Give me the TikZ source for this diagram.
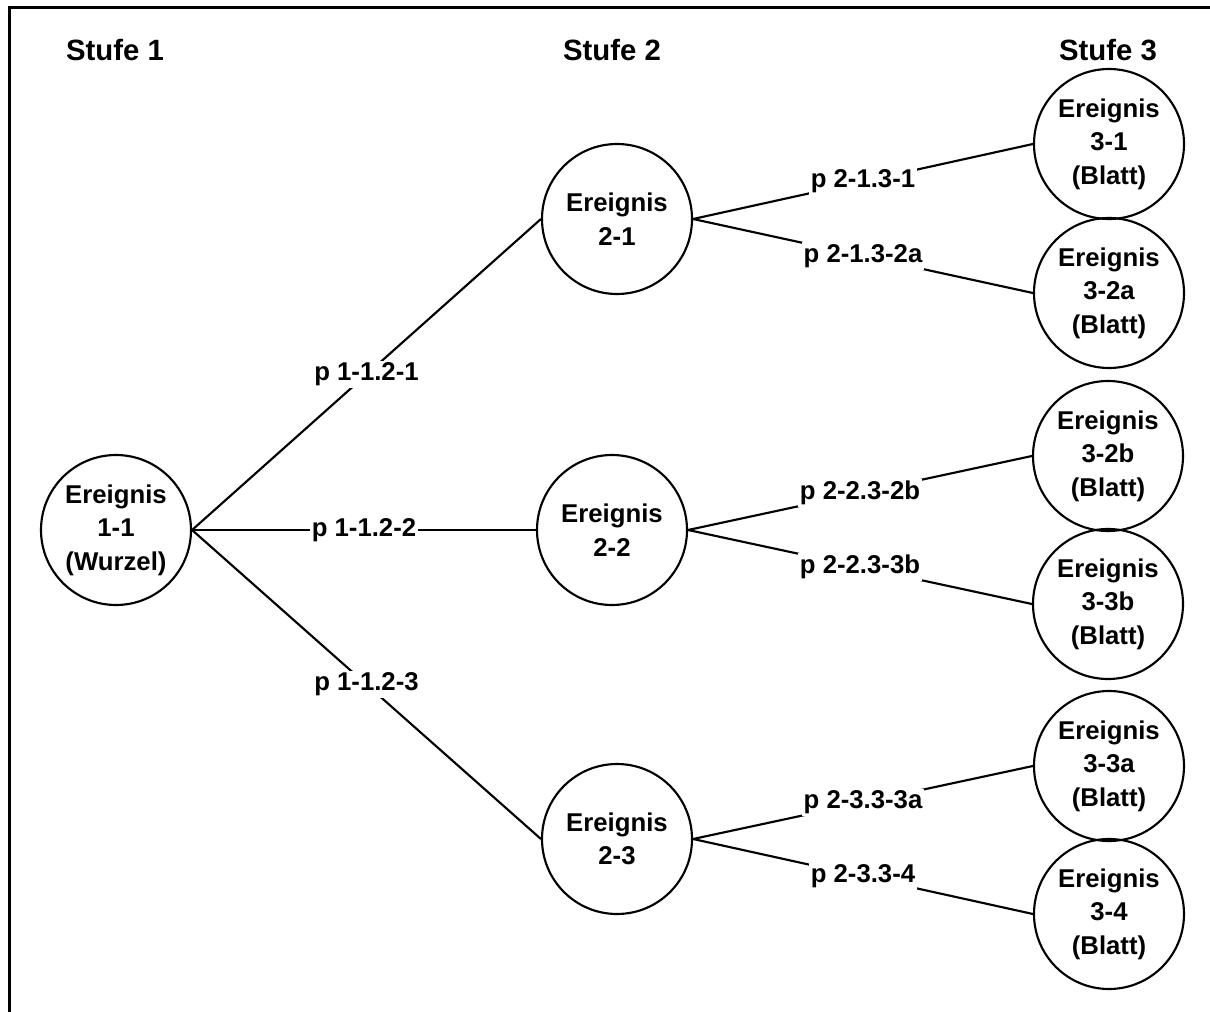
\documentclass[tikz,border=0pt]{standalone}
\usepackage{fontspec}
\setmainfont{Liberation Sans}
\usetikzlibrary{positioning}

\begin{document}
\begin{tikzpicture}[x=0.75pt, y=-0.75pt, line width=1.6pt,
    ereignis/.style={draw, circle, minimum size=112.5pt, inner sep=0pt, align=center,
      font=\bfseries\fontsize{19.3}{25.2}\selectfont},
    plabel/.style={fill=white, inner sep=1.5pt, font=\bfseries\fontsize{19.3}{22}\selectfont},
    stufe/.style={font=\bfseries\fontsize{22}{26}\selectfont}]
  \useasboundingbox (0,0) rectangle (1210,1012);
  \draw[line width=2.25pt] (9.5,1012) -- (9.5,7.5) -- (1210,7.5);

  \node[stufe] (s1) at (115,50) {Stufe 1};
  \node[stufe] (s2) at (612,50) {Stufe 2};
  \node[stufe] (s3) at (1108,50) {Stufe 3};

  \node[ereignis] (e11) at (116,530) {Ereignis\\1-1\\(Wurzel)};
  \node[ereignis] (e21) at (617,219) {Ereignis\\2-1};
  \node[ereignis] (e22) at (612,530) {Ereignis\\2-2};
  \node[ereignis] (e23) at (617,839) {Ereignis\\2-3};
  \node[ereignis] (e31) at (1109,144) {Ereignis\\3-1\\(Blatt)};
  \node[ereignis] (e32a) at (1109,293) {Ereignis\\3-2a\\(Blatt)};
  \node[ereignis] (e32b) at (1108,456) {Ereignis\\3-2b\\(Blatt)};
  \node[ereignis] (e33b) at (1108,604) {Ereignis\\3-3b\\(Blatt)};
  \node[ereignis] (e33a) at (1109,766) {Ereignis\\3-3a\\(Blatt)};
  \node[ereignis] (e34) at (1109,914) {Ereignis\\3-4\\(Blatt)};

  \draw (e11.east) -- node[plabel] {p 1-1.2-1} (e21.west);
  \draw (e11.east) -- node[plabel] {p 1-1.2-2} (e22.west);
  \draw (e11.east) -- node[plabel] {p 1-1.2-3} (e23.west);
  \draw (e21.east) -- node[plabel] {p 2-1.3-1} (e31.west);
  \draw (e21.east) -- node[plabel] {p 2-1.3-2a} (e32a.west);
  \draw (e22.east) -- node[plabel] {p 2-2.3-2b} (e32b.west);
  \draw (e22.east) -- node[plabel] {p 2-2.3-3b} (e33b.west);
  \draw (e23.east) -- node[plabel] {p 2-3.3-3a} (e33a.west);
  \draw (e23.east) -- node[plabel] {p 2-3.3-4} (e34.west);
\end{tikzpicture}
\end{document}
